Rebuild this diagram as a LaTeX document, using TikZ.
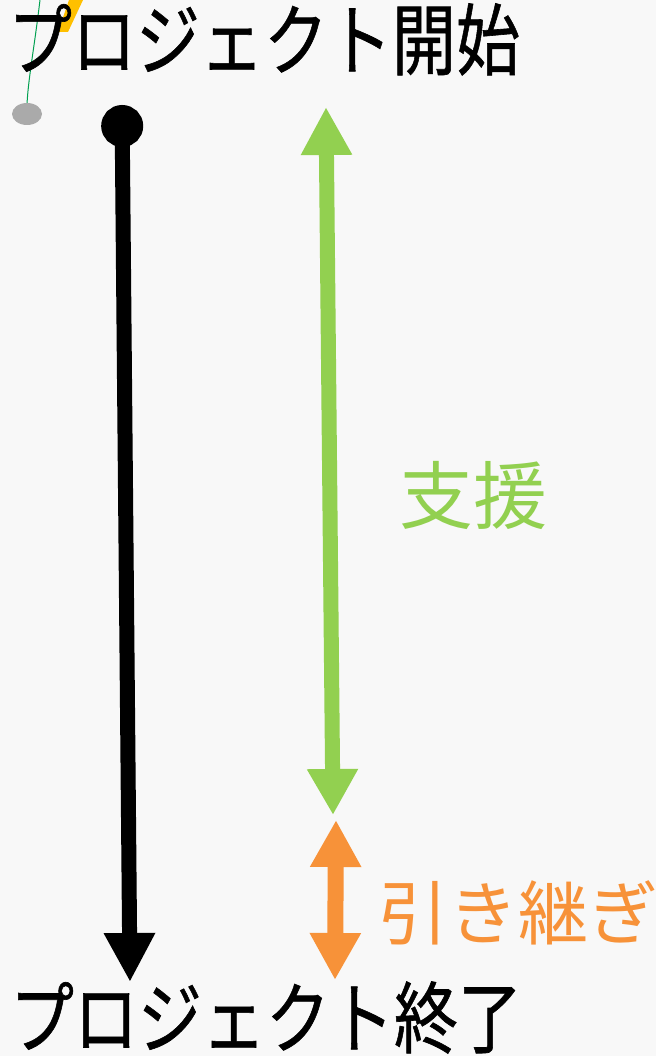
\documentclass[tikz,border=0pt]{standalone}
\usepackage{fontspec}
\setmainfont{Noto Sans CJK JP}
\newfontfamily\titlefont[FakeBold=0.8]{Noto Sans CJK JP}
\usetikzlibrary{arrows.meta}
\definecolor{bg}{HTML}{F8F8F8}
\definecolor{sgreen}{HTML}{92D050}
\definecolor{sorange}{HTML}{F79239}
\definecolor{ygold}{HTML}{FFC000}
\definecolor{lgray}{HTML}{AAAAAA}
\definecolor{dgreen}{HTML}{00A050}
\tikzset{
  lbl/.style={inner sep=0pt, anchor=base},
  ttl/.style={lbl, font=\titlefont\fontsize{64}{64}\selectfont},
  bar/.style={line width=15pt},
}
\begin{document}
\begin{tikzpicture}[x=1pt,y=-1pt]
\fill[bg] (0,0) rectangle (656,1056);
\useasboundingbox (0,0) rectangle (656,1056);
% artifacts at top-left
\fill[ygold] (69,0) -- (83,0) -- (68,32) -- (58,32) -- cycle;
\draw[dgreen, line width=1pt] (40,0) .. controls (34,50) and (28,80) .. (27,105);
\fill[lgray] (27,114) ellipse [x radius=15, y radius=11];
% texts
\node[ttl] (start) at (264,69) {\scalebox{1}[1.22]{プロジェクト開始}};
\node[ttl] (end) at (266,1047) {\scalebox{1}[1.22]{プロジェクト終了}};
\node[lbl, font=\fontsize{74}{74}\selectfont, text=sgreen] (shien) at (473,523) {支援};
\node[lbl, font=\fontsize{70}{70}\selectfont, text=sorange] (hiki) at (518,939) {引き継ぎ};
% coordinates
\coordinate (k1) at (122,105);
\coordinate (k2) at (130,982);
\coordinate (g1) at (326,107);
\coordinate (g2) at (333,815);
\coordinate (o1) at (336,820);
\coordinate (o2) at (335,980);
% arrows
\draw[bar, black, {Circle[length=42pt,width=42pt]}-{Triangle[length=49pt,width=48pt]}] (k1) -- (k2);
\draw[bar, sgreen, {Triangle[length=48pt,width=48pt]}-{Triangle[length=46pt,width=48pt]}] (g1) -- (g2);
\draw[line width=16pt, sorange, {Triangle[length=47pt,width=48pt]}-{Triangle[length=47pt,width=48pt]}] (o1) -- (o2);
\end{tikzpicture}
\end{document}
